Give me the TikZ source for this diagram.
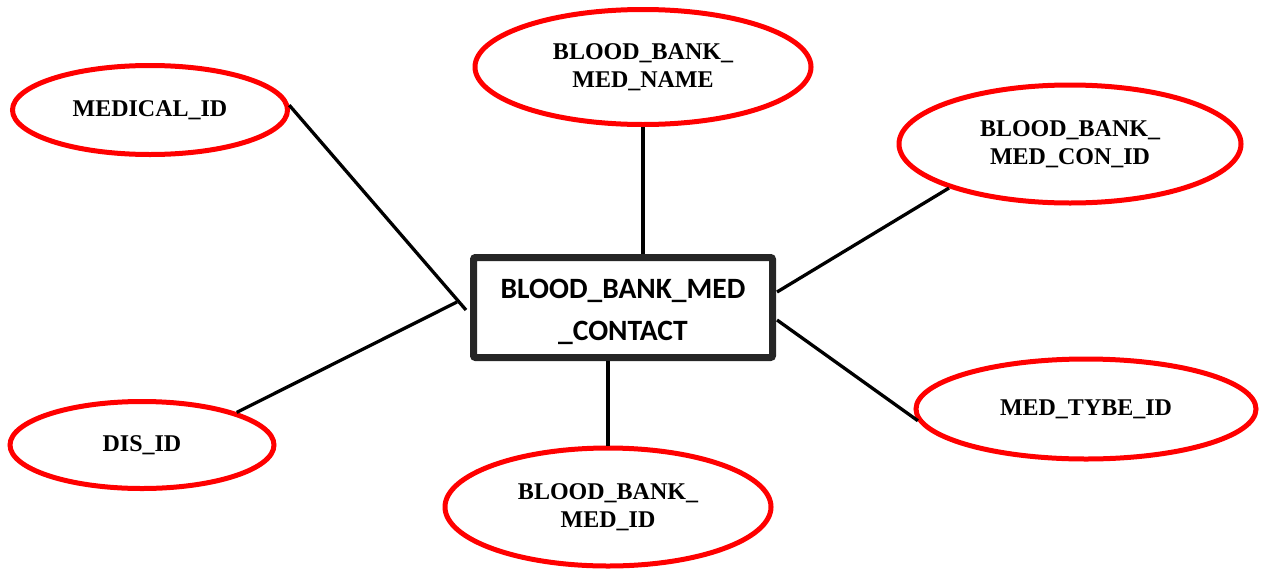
\documentclass[tikz,border=0pt]{standalone}
\usepackage{fontspec}
\setmainfont{Liberation Serif}
\newfontfamily\boxfont{Carlito}
\usetikzlibrary{shapes.geometric}
\definecolor{attred}{HTML}{FF0000}
\definecolor{boxgray}{HTML}{262626}
\begin{document}
\begin{tikzpicture}[x=1pt,y=-1pt,
  attr/.style={ellipse, draw=attred, line width=5pt, fill=white, inner sep=0pt,
    align=center, font=\fontsize{24}{28}\selectfont\bfseries},
  entity/.style={rectangle, draw=boxgray, line width=7pt, rounded corners=2pt, fill=white,
    inner sep=0pt},
  entitytext/.style={align=center, inner sep=0pt, yshift=-4pt,
    font=\boxfont\fontsize{29.5}{42}\selectfont\bfseries},
  link/.style={black, line width=3.3pt}]
\useasboundingbox (0,0) rectangle (1265,573);
\node[entity, minimum width=299pt, minimum height=100pt,
  label={[entitytext]center:BLOOD\_BANK\_MED\\\_CONTACT}] (box) at (623,307.5) {};
\node[attr, minimum width=275pt, minimum height=89pt] (medical) at (150,110) {MEDICAL\_ID};
\node[attr, minimum width=336pt, minimum height=115pt] (name) at (643,67) {BLOOD\_BANK\_\\MED\_NAME};
\node[attr, minimum width=342pt, minimum height=118pt] (con) at (1070,144) {BLOOD\_BANK\_\\MED\_CON\_ID};
\node[attr, minimum width=340pt, minimum height=100pt] (tybe) at (1086,409) {MED\_TYBE\_ID};
\node[attr, minimum width=326pt, minimum height=118pt] (medid) at (608,507) {BLOOD\_BANK\_\\MED\_ID};
\node[attr, minimum width=264pt, minimum height=87pt] (dis) at (142,445) {DIS\_ID};
\coordinate (m1) at (466,310);
\coordinate (d1) at (457,302);
\coordinate (c1) at (777,292);
\coordinate (t1) at (777,320);
\coordinate (n1) at (643,254);
\coordinate (b1) at (608,361);
\draw[link] (medical.2) -- (m1);
\draw[link] (dis.19) -- (d1);
\draw[link] (con.200) -- (c1);
\draw[link] (tybe.184) -- (t1);
\draw[link] (name.south) -- (n1);
\draw[link] (b1) -- (medid.north);
\end{tikzpicture}
\end{document}
